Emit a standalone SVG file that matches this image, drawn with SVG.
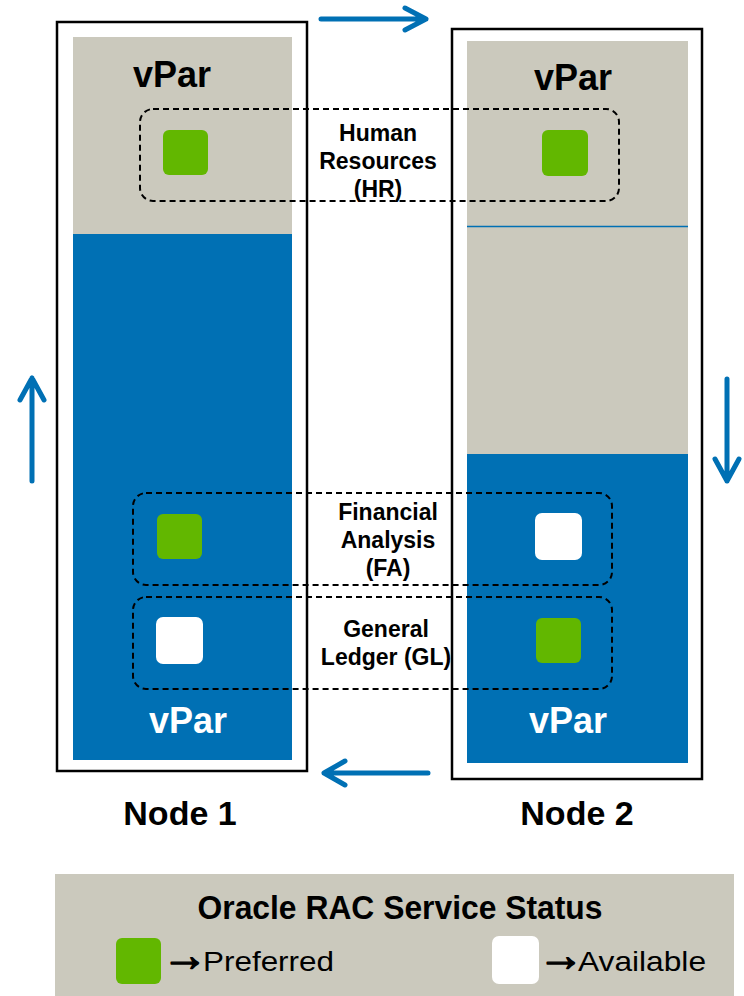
<svg xmlns="http://www.w3.org/2000/svg" width="744" height="996" viewBox="0 0 744 996">
<style>
.outer{fill:#fff;stroke:#000;stroke-width:2.5}
.gray{fill:#CBC9BD}
.blue{fill:#0070B4}
.green{fill:#62B700}
.white{fill:#fff}
.dash{fill:none;stroke:#000;stroke-width:2;stroke-dasharray:6 4}
.flow{fill:none;stroke:#0070B4;stroke-width:5;stroke-linecap:round;stroke-linejoin:round}
.vpar{font-family:"Liberation Sans",Arial,sans-serif;font-weight:bold;font-size:36px;text-anchor:middle}
.lbl{font-family:"Liberation Sans",Arial,sans-serif;font-weight:bold;font-size:23px;text-anchor:middle;fill:#000}
.node{font-family:"Liberation Sans",Arial,sans-serif;font-weight:bold;font-size:34px;text-anchor:middle;fill:#000}
.leg{font-family:"Liberation Sans",Arial,sans-serif;font-size:28px;fill:#000}
.larr{font-family:"Liberation Sans",sans-serif;font-weight:bold;font-size:46px;fill:#000;stroke:#000;stroke-width:1.4;stroke-linejoin:round}
</style>
<g id="node1">
  <rect class="outer" x="57" y="22" width="250" height="749"/>
  <rect class="gray" x="73" y="37" width="219" height="197"/>
  <rect class="blue" x="73" y="234" width="219" height="526"/>
  <text class="vpar" x="172" y="87" fill="#000">vPar</text>
  <text class="vpar" x="188" y="733" fill="#fff">vPar</text>
  <text class="node" x="180" y="825">Node 1</text>
</g>
<g id="node2">
  <rect class="outer" x="452" y="29" width="250" height="750"/>
  <rect class="gray" x="467" y="41" width="221" height="413"/>
  <rect class="blue" x="467" y="454" width="221" height="309"/>
  <line x1="467" y1="226.5" x2="688" y2="226.5" stroke="#0070B4" stroke-width="1.5"/>
  <text class="vpar" x="573" y="90" fill="#000">vPar</text>
  <text class="vpar" x="568" y="733" fill="#fff">vPar</text>
  <text class="node" x="577" y="825">Node 2</text>
</g>
<g id="service-hr">
  <rect class="dash" x="140" y="109" width="479" height="92" rx="13"/>
  <rect class="green" x="163" y="130" width="45" height="45" rx="6"/>
  <rect class="green" x="542" y="130" width="46" height="46" rx="6"/>
  <text class="lbl" x="378" y="141">Human</text>
  <text class="lbl" x="378" y="169">Resources</text>
  <text class="lbl" x="378" y="197">(HR)</text>
</g>
<g id="service-fa">
  <rect class="dash" x="133" y="493" width="479" height="92" rx="13"/>
  <rect class="green" x="157" y="514" width="45" height="45" rx="6"/>
  <rect class="white" x="535" y="513" width="47" height="47" rx="7"/>
  <text class="lbl" x="388" y="520">Financial</text>
  <text class="lbl" x="388" y="548">Analysis</text>
  <text class="lbl" x="388" y="576">(FA)</text>
</g>
<g id="service-gl">
  <rect class="dash" x="133" y="597" width="479" height="92" rx="13"/>
  <rect class="white" x="156" y="617" width="47" height="47" rx="7"/>
  <rect class="green" x="536" y="618" width="45" height="45" rx="6"/>
  <text class="lbl" x="386" y="637">General</text>
  <text class="lbl" x="386" y="665">Ledger (GL)</text>
</g>
<g id="connectors">
  <path class="flow" d="M321 19 H426 M405 8 L426 19 L405 30"/>
  <path class="flow" d="M32 481 V378 M20 400 L32 378 L44 400"/>
  <path class="flow" d="M727 379 V481 M715 459 L727 481 L739 459"/>
  <path class="flow" d="M428 773 H324 M345 761 L324 773 L345 785"/>
</g>
<g id="legend">
  <rect class="gray" x="55" y="874" width="679" height="122"/>
  <text class="node" x="400" y="919" font-size="29" textLength="405" lengthAdjust="spacingAndGlyphs">Oracle RAC Service Status</text>
  <rect class="green" x="116" y="938" width="45" height="46" rx="6"/>
  <text class="larr" x="162" y="971">→</text>
  <text class="leg" x="203" y="971" textLength="131" lengthAdjust="spacingAndGlyphs">Preferred</text>
  <rect class="white" x="492" y="936" width="47" height="48" rx="7"/>
  <text class="larr" x="538" y="971">→</text>
  <text class="leg" x="578" y="971" textLength="128" lengthAdjust="spacingAndGlyphs">Available</text>
</g>
</svg>
